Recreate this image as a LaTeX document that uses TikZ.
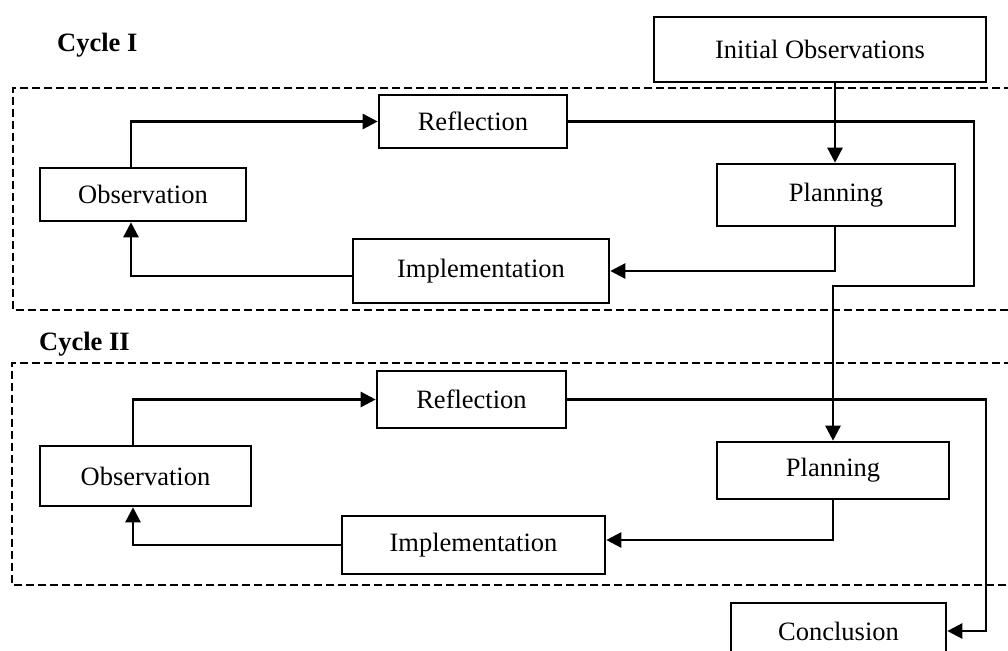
\documentclass[tikz,border=0pt]{standalone}
\usepackage{fontspec}
\setmainfont{Liberation Serif}
\usetikzlibrary{arrows.meta}
\begin{document}
\begin{tikzpicture}[x=1pt,y=-1pt,
  box/.style={draw,line width=2.6pt,inner sep=0pt,font=\fontsize{26.5}{30}\selectfont},
  arr/.style={line width=2.5pt,-{Triangle[length=15pt,width=15pt]}},
  ln/.style={line width=2.5pt},
  frame/.style={line width=2.2pt,dash pattern=on 8pt off 4pt},
  lbl/.style={font=\fontsize{26.5}{30}\selectfont\bfseries,inner sep=0pt,anchor=base west}]
\useasboundingbox (0,0) rectangle (1008,650);

% frames
\draw[frame] (1012,88) -- (13,88) -- (13,310) -- (1012,310);
\draw[frame] (1012,363) -- (12,363) -- (12,585) -- (1012,585);

% labels
\node[lbl] (c1lbl) at (57,52) {Cycle I};
\node[lbl] (c2lbl) at (39,350) {Cycle II};

% boxes
\node[box,minimum width=332pt,minimum height=65pt] (init) at (820,49.5) {Initial Observations};
\node[box,minimum width=188pt,minimum height=53pt] (refl1) at (473,121.5) {Reflection};
\node[box,minimum width=206pt,minimum height=53pt] (obs1) at (143,194.5) {Observation};
\node[box,minimum width=256pt,minimum height=64pt] (impl1) at (481,271) {Implementation};
\node[box,minimum width=238pt,minimum height=62pt] (plan1) at (836,195) {Planning};

\node[box,minimum width=189pt,minimum height=57pt] (refl2) at (471.5,399.5) {Reflection};
\node[box,minimum width=211pt,minimum height=60pt] (obs2) at (145.5,476) {Observation};
\node[box,minimum width=263pt,minimum height=58pt] (impl2) at (473.5,545) {Implementation};
\node[box,minimum width=232pt,minimum height=57pt] (plan2) at (833,470.5) {Planning};
\node[box,minimum width=215pt,minimum height=56pt] (concl) at (838.5,631) {Conclusion};

% helper coordinates
\coordinate (xo1) at (131,0);
\coordinate (xo2) at (133,0);
\coordinate (xp1) at (835,0);
\coordinate (xr1) at (974,0);
\coordinate (yr1) at (0,286);
\coordinate (xr2) at (986,0);

% cycle I connectors
\draw[arr] (init.south -| xp1) -- (plan1.north -| xp1);
\draw[arr] (obs1.north -| xo1) |- (refl1.west);
\draw[arr] (plan1.south -| xp1) |- (impl1.east);
\draw[arr] ([yshift=-5pt]impl1.west) -| (obs1.south -| xo1);
\draw[arr] (refl1.east) -| (xr1 |- yr1) -- (plan2.north |- yr1) -- (plan2.north);

% cycle II connectors
\draw[arr] (obs2.north -| xo2) |- (refl2.west);
\draw[arr] (plan2.south) |- ([yshift=5pt]impl2.east);
\draw[arr] (impl2.west) -| (obs2.south -| xo2);
\draw[arr] (refl2.east) -| (xr2 |- concl.east) -- (concl.east);
\end{tikzpicture}
\end{document}
